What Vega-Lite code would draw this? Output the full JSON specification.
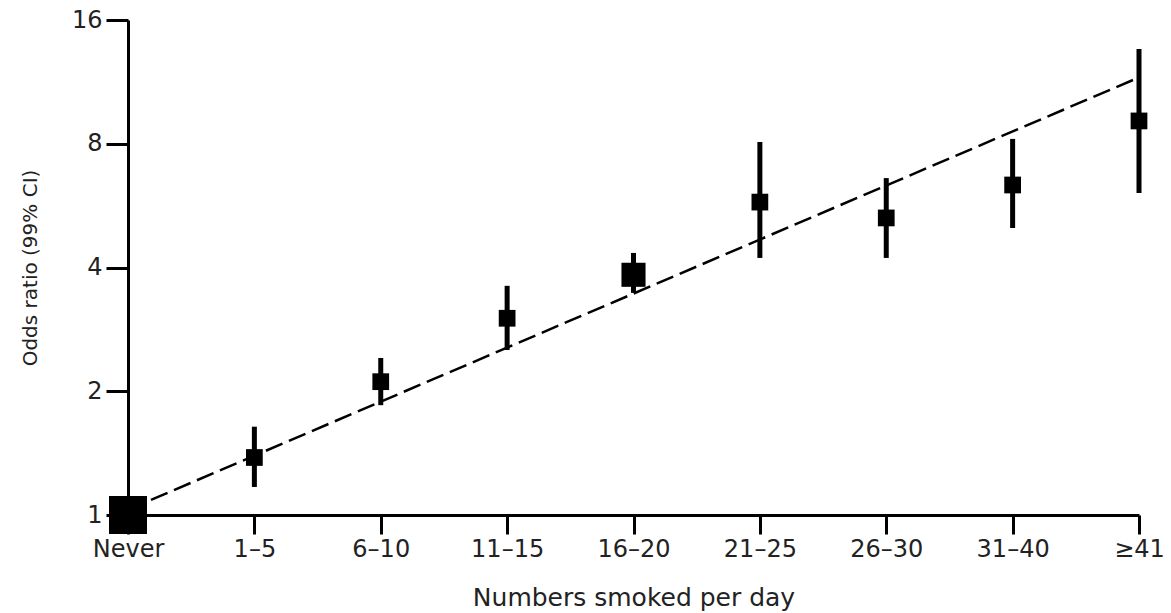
{
  "$schema": "https://vega.github.io/schema/vega-lite/v6.json",
  "width": 1011,
  "height": 495,
  "autosize": {"type": "none"},
  "padding": {"left": 128, "top": 20, "right": 32, "bottom": 98},
  "background": "white",
  "config": {
    "view": {"stroke": null},
    "font": "DejaVu Sans",
    "axis": {"grid": false, "domainColor": "black", "tickColor": "black", "labelColor": "#222", "titleColor": "#222", "titleFontWeight": "normal"}
  },
  "datasets": {
    "points": [
      {"group": "Never", "or": 1.0, "lo": 1.0, "hi": 1.0},
      {"group": "1–5", "or": 1.38, "lo": 1.17, "hi": 1.64},
      {"group": "6–10", "or": 2.11, "lo": 1.85, "hi": 2.41},
      {"group": "11–15", "or": 3.01, "lo": 2.52, "hi": 3.61},
      {"group": "16–20", "or": 3.84, "lo": 3.47, "hi": 4.34},
      {"group": "21–25", "or": 5.77, "lo": 4.22, "hi": 8.08},
      {"group": "26–30", "or": 5.28, "lo": 4.22, "hi": 6.6},
      {"group": "31–40", "or": 6.35, "lo": 4.99, "hi": 8.22},
      {"group": "≥41", "or": 9.09, "lo": 6.07, "hi": 13.6}
    ],
    "trend": [
      {"group": "Never", "fit": 1.03},
      {"group": "≥41", "fit": 11.6}
    ]
  },
  "encoding": {
    "x": {
      "field": "group",
      "type": "ordinal",
      "scale": {"type": "point", "padding": 0, "domain": ["Never", "1–5", "6–10", "11–15", "16–20", "21–25", "26–30", "31–40", "≥41"]},
      "axis": {
        "title": "Numbers smoked per day",
        "titleFontSize": 25,
        "titlePadding": 24,
        "labelAngle": 0,
        "labelFontSize": 24,
        "labelPadding": 3,
        "tickSize": 19,
        "tickWidth": 3,
        "domainWidth": 3,
        "labelOverlap": false
      }
    }
  },
  "layer": [
    {
      "data": {"name": "trend"},
      "mark": {"type": "line", "color": "black", "strokeWidth": 2.5, "strokeDash": [18, 7]},
      "encoding": {
        "y": {
          "field": "fit",
          "type": "quantitative",
          "scale": {"type": "log", "base": 2, "domain": [1, 16], "nice": false},
          "axis": {
            "title": "Odds ratio (99% CI)",
            "titleFontSize": 20,
            "titlePadding": 31,
            "values": [1, 2, 4, 8, 16],
            "format": "d",
            "labelFontSize": 24,
            "labelPadding": 4,
            "tickSize": 22,
            "tickWidth": 3,
            "domainWidth": 3
          }
        }
      }
    },
    {
      "data": {"name": "points"},
      "mark": {"type": "rule", "color": "black", "strokeWidth": 5},
      "encoding": {
        "y": {"field": "lo", "type": "quantitative"},
        "y2": {"field": "hi"}
      }
    },
    {
      "data": {"name": "points"},
      "mark": {"type": "point", "shape": "square", "filled": true, "color": "black", "opacity": 1},
      "encoding": {
        "y": {"field": "or", "type": "quantitative"},
        "size": {
          "condition": [
            {"test": "datum.group === 'Never'", "value": 1444},
            {"test": "datum.group === '16–20'", "value": 580}
          ],
          "value": 280
        }
      }
    }
  ]
}
